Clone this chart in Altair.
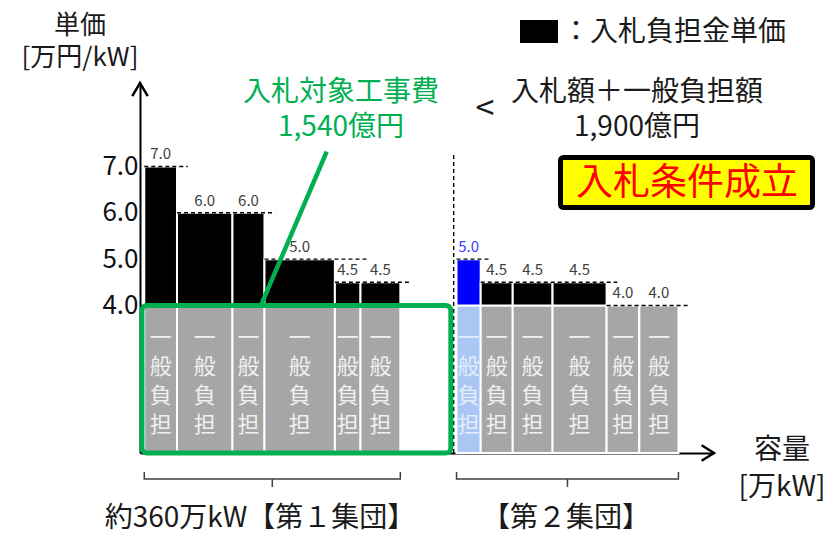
import altair as alt
import pandas as pd

# ---- data ---------------------------------------------------------------
# capacities [万kW] and bid unit prices [万円/kW] of each project, per group
g1_caps = [46, 78, 45, 99, 36, 56]
g1_prices = [7.0, 6.0, 6.0, 5.0, 4.5, 4.5]
g2_caps = [34, 45, 56, 76, 46, 55]
g2_prices = [5.0, 4.5, 4.5, 4.5, 4.0, 4.0]
group_starts = [6, 445]          # where each group begins on the capacity axis
general_level = 4.0              # top of the 一般負担 portion
y_ticks = [4.0, 5.0, 6.0, 7.0]

FONT = "Noto Sans CJK JP"
GREEN = "#00b050"
X_DOM = [0, 807]
Y_DOM = [0.816, 8.802]
Y_BASE = Y_DOM[0]

xs = alt.Scale(domain=X_DOM, nice=False, zero=False)
ys = alt.Scale(domain=Y_DOM, nice=False, zero=False)
x_axis = alt.Axis(labels=False, ticks=False, grid=False, title=None,
                  domainColor="black", domainWidth=2)
y_axis = alt.Axis(values=y_ticks, format=".1f", grid=False, ticks=False, title=None,
                  domainColor="black", domainWidth=2, labelFont=FONT, labelFontSize=26,
                  labelColor="#111111", labelPadding=2)


def X(field):
    return alt.X(field, scale=xs, axis=x_axis)


def Y(field):
    return alt.Y(field, scale=ys, axis=y_axis)


# ---- build bar table ----------------------------------------------------
rows = []
for gi, (caps, prices) in enumerate([(g1_caps, g1_prices), (g2_caps, g2_prices)]):
    pos = group_starts[gi]
    for bi, (c, p) in enumerate(zip(caps, prices)):
        hi = gi == 1 and bi == 0
        rows.append(dict(group=gi, x0=pos, x1=pos + c, mid=pos + c / 2, price=p,
                         base=Y_BASE, gen=general_level, label=f"{p:.1f}",
                         top="#0000ff" if hi else "#000000",
                         low="#a9c6f4" if hi else "#a6a6a6",
                         txt="#e4edfb" if hi else "#f0f0f0",
                         lab="#3a3aff" if hi else "#404040"))
        pos += c
bars = pd.DataFrame(rows)

# dashed price-level lines: one per run of equal prices inside a group,
# running a little past the last bar of the run
EXT = 15
EXT_LONG = {(0, 5.0): 48}
dash_rows = []
for gi in (0, 1):
    sub = bars[bars.group == gi].reset_index(drop=True)
    i = 0
    while i < len(sub):
        j = i
        while j + 1 < len(sub) and sub.price[j + 1] == sub.price[i]:
            j += 1
        ext = EXT_LONG.get((gi, sub.price[i]), EXT)
        dash_rows.append(dict(x=sub.x0[i], x2=sub.x1[j] + ext, y=sub.price[i]))
        i = j + 1
g1_end = group_starts[0] + sum(g1_caps)
g2_end = group_starts[1] + sum(g2_caps)
box_right = group_starts[1] - 8
dash_rows.append(dict(x=0, x2=box_right, y=general_level))
dashes = pd.DataFrame(dash_rows)

# ---- layers -------------------------------------------------------------
lower = alt.Chart(bars).mark_rect(stroke="white", strokeWidth=2).encode(
    x=X("x0:Q"), x2="x1:Q", y=Y("base:Q"), y2="gen:Q",
    color=alt.Color("low:N", scale=None),
)

upper = alt.Chart(bars).transform_filter("datum.price > 4").mark_rect(
    stroke="white", strokeWidth=2).encode(
    x=X("x0:Q"), x2="x1:Q", y=Y("gen:Q"), y2="price:Q",
    color=alt.Color("top:N", scale=None),
)

dash_lines = alt.Chart(dashes).mark_rule(color="black", strokeWidth=1.4, strokeDash=[4, 3]).encode(
    x=X("x:Q"), x2="x2:Q", y=Y("y:Q"),
)

divider = alt.Chart(pd.DataFrame({"x": [group_starts[1] - 4], "y": [Y_BASE], "y2": [7.29]})).mark_rule(
    color="black", strokeWidth=1.4, strokeDash=[4, 3]).encode(
    x=X("x:Q"), y=Y("y:Q"), y2="y2:Q",
)

value_labels = alt.Chart(bars).mark_text(font=FONT, fontSize=15, baseline="bottom", dy=-4).encode(
    x=X("mid:Q"), y=Y("price:Q"), text="label:N",
    color=alt.Color("lab:N", scale=None),
)

# vertical 一般負担 caption; the first line sits at ym, the rest follow below
general_text = alt.Chart(bars).transform_calculate(ym="datum.gen - 0.70").mark_text(
    font=FONT, fontSize=22, lineHeight=29, baseline="middle",
    text=["一", "般", "負", "担"]).encode(
    x=X("mid:Q"), y=Y("ym:Q"),
    color=alt.Color("txt:N", scale=None),
)

green_box = alt.Chart(pd.DataFrame({"x": [2.8], "x2": [box_right], "y": [Y_BASE], "y2": [general_level]})).mark_rect(
    fillOpacity=0, stroke=GREEN, strokeWidth=5, cornerRadius=5).encode(
    x=X("x:Q"), x2="x2:Q", y=Y("y:Q"), y2="y2:Q",
)

pointer = alt.Chart(pd.DataFrame({"x": [170], "x2": [262.5], "y": [general_level], "y2": [7.32]})).mark_rule(
    color=GREEN, strokeWidth=4.5).encode(
    x=X("x:Q"), x2="x2:Q", y=Y("y:Q"), y2="y2:Q",
)

# axis arrowheads
arrow_up = alt.Chart(pd.DataFrame({"x": [X_DOM[0]], "y": [Y_DOM[1]]})).mark_point(
    shape="M -1 1.7 L 0 0 L 1 1.7", size=240, filled=False, stroke="black", strokeWidth=2.5,
    opacity=1).encode(x=X("x:Q"), y=Y("y:Q"))
arrow_right = alt.Chart(pd.DataFrame({"x": [X_DOM[1]], "y": [Y_BASE]})).mark_point(
    shape="M -1.6 -1 L 0 0 L -1.6 1", size=240, filled=False, stroke="black", strokeWidth=2.5,
    opacity=1).encode(x=X("x:Q"), y=Y("y:Q"))

# group brackets under the axis
B_END, B_BAR, B_TIP = 0.406, 0.256, 0.083
br_rows = []
for gi, (s, e) in enumerate([(group_starts[0], g1_end), (group_starts[1], g2_end)]):
    for o, (bx, by) in enumerate([(s, B_END), (s, B_BAR), (e, B_BAR), (e, B_END)]):
        br_rows.append(dict(g=gi, o=o, x=bx, y=by))
brackets = alt.Chart(pd.DataFrame(br_rows)).mark_line(color="#404040", strokeWidth=1.5).encode(
    x=X("x:Q"), y=Y("y:Q"), detail="g:N", order="o:Q")
br_mid = pd.DataFrame({"x": [(group_starts[0] + g1_end) / 2, (group_starts[1] + g2_end) / 2],
                       "y": [B_BAR] * 2, "y2": [B_TIP] * 2})
bracket_tips = alt.Chart(br_mid).mark_rule(color="#404040", strokeWidth=1.5).encode(
    x=X("x:Q"), y=Y("y:Q"), y2="y2:Q")


def label(lines, x, y, size=28, color="#1a1a1a", align="center", line_height=35, **kw):
    # a text block; with several lines, y is the centre of the first one
    return alt.Chart(pd.DataFrame({"a": [0]})).mark_text(
        font=FONT, fontSize=size, color=color, align=align, baseline="middle",
        lineHeight=line_height, text=lines, **kw).encode(
        x=alt.value(x), y=alt.value(y))


# legend swatch
legend_box = alt.Chart(pd.DataFrame({"a": [0]})).mark_rect(color="black").encode(
    x=alt.value(380), x2=alt.value(418), y=alt.value(-63), y2=alt.value(-40))

# condition box
cond_box = alt.Chart(pd.DataFrame({"a": [0]})).mark_rect(
    fill="#ffff00", stroke="black", strokeWidth=5, cornerRadius=3).encode(
    x=alt.value(420.5), x2=alt.value(672.5), y=alt.value(74.5), y2=alt.value(124.5))

texts = [
    label(["単価", "[万円/kW]"], -60, -57, size=26, line_height=32),
    label("：入札負担金単価", 422, -50, align="left"),
    label(["入札対象工事費", "1,540億円"], 201, 10, color=GREEN),
    label("<", 345, 27, size=34),
    label(["入札額＋一般負担額", "1,900億円"], 497, 10),
    label("入札条件成立", 547, 101, size=37, color="#ff0000"),
    label(["容量", "[万kW]"], 642, 368, line_height=37),
    label("約360万kW【第１集団】", 120, 436),
    label("【第２集団】", 426, 436),
]

chart = alt.layer(
    lower, upper, dash_lines, divider, general_text, value_labels, green_box, pointer,
    arrow_up, arrow_right, brackets, bracket_tips, legend_box, cond_box, *texts
).properties(
    width=574, height=370,
    autosize=alt.AutoSizeParams(type="none"),
    padding={"left": 140, "top": 83, "right": 119, "bottom": 82},
    background="white",
).configure_view(strokeWidth=0)

chart.save("out.html", embed_options={"renderer": "svg", "actions": False})
